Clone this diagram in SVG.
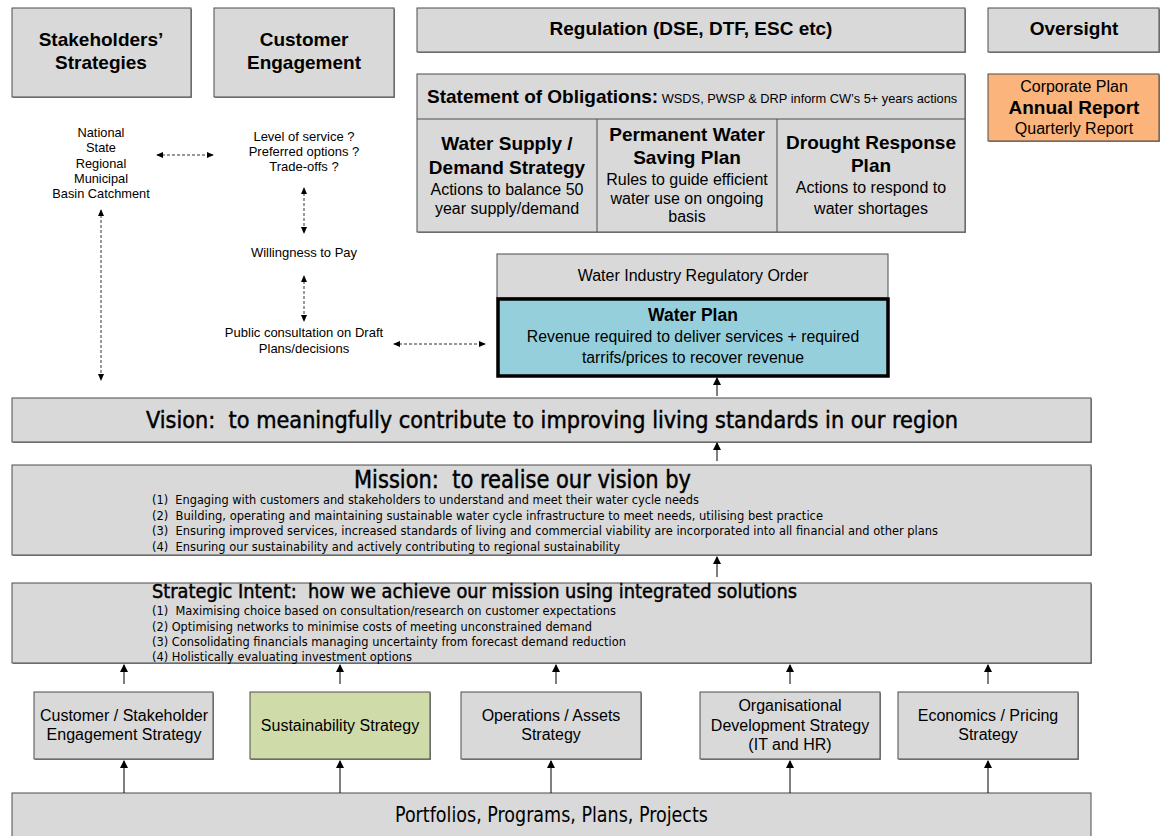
<svg xmlns="http://www.w3.org/2000/svg" width="1163" height="836" viewBox="0 0 1163 836">
  <style>
    .box { fill: #d9d9d9; stroke: #4d4d4d; stroke-width: 1; }
    .shadow { fill: #8c8c8c; }
    .ar { font-family: "Liberation Sans", Arial, sans-serif; fill: #000; }
    .cd { font-family: "DejaVu Sans Condensed", "DejaVu Sans", sans-serif; font-stretch: condensed; fill: #000; white-space: pre; }
    .heavy { stroke: #000; stroke-width: 0.45; }
    .b { font-weight: bold; }
    .mid { text-anchor: middle; }
    .solid { stroke: #000; stroke-width: 1; fill: none; }
    .dash { stroke: #333; stroke-width: 1; stroke-dasharray: 3 2; fill: none; }
  </style>
  <defs>
    <marker id="head" viewBox="0 0 8 10" refX="7" refY="5" markerWidth="8" markerHeight="10" markerUnits="userSpaceOnUse" orient="auto">
      <path d="M0,1 L8,5 L0,9 Z" fill="#000"/>
    </marker>
    <marker id="headS" viewBox="0 0 8 8" refX="7" refY="4" markerWidth="7" markerHeight="7" markerUnits="userSpaceOnUse" orient="auto-start-reverse">
      <path d="M0,0.5 L8,4 L0,7.5 Z" fill="#000"/>
    </marker>
  </defs>
  <rect width="1163" height="836" fill="#fff"/>

  <!-- top header boxes -->
  <g id="stakeholders">
    <rect class="shadow" x="13" y="9" width="179" height="89"/>
    <rect class="box" x="12" y="8" width="179" height="89"/>
    <text class="ar b mid" x="101" y="46" font-size="19">Stakeholders’</text>
    <text class="ar b mid" x="101" y="69" font-size="19">Strategies</text>
  </g>
  <g id="customer-engagement">
    <rect class="shadow" x="215" y="9" width="180" height="89"/>
    <rect class="box" x="214" y="8" width="180" height="89"/>
    <text class="ar b mid" x="304" y="46" font-size="19">Customer</text>
    <text class="ar b mid" x="304" y="69" font-size="19">Engagement</text>
  </g>
  <g id="regulation">
    <rect class="shadow" x="418" y="9" width="548" height="44"/>
    <rect class="box" x="417" y="8" width="548" height="44"/>
    <text class="ar b mid" x="691" y="35" font-size="19">Regulation (DSE, DTF, ESC etc)</text>
  </g>
  <g id="oversight">
    <rect class="shadow" x="989" y="9" width="171" height="44"/>
    <rect class="box" x="988" y="8" width="171" height="44"/>
    <text class="ar b mid" x="1074" y="35" font-size="19">Oversight</text>
  </g>
  <g id="reports">
    <rect class="shadow" x="989" y="75" width="171" height="67"/>
    <rect x="988" y="74" width="171" height="67" fill="#fab47c" stroke="#4d4d4d"/>
    <text class="ar mid" x="1074" y="92" font-size="16">Corporate Plan</text>
    <text class="ar b mid" x="1074" y="114" font-size="19">Annual Report</text>
    <text class="ar mid" x="1074" y="134" font-size="16">Quarterly Report</text>
  </g>

  <!-- statement of obligations and its three plans -->
  <g id="obligations">
    <rect class="shadow" x="418" y="75" width="548" height="158"/>
    <rect class="box" x="417" y="74" width="548" height="158"/>
    <line x1="417" y1="119" x2="965" y2="119" stroke="#4d4d4d"/>
    <text class="ar" x="427" y="103"><tspan class="b" font-size="19">Statement of Obligations:</tspan><tspan font-size="12.8"> WSDS, PWSP &amp; DRP inform CW’s 5+ years actions</tspan></text>
  </g>
  <g id="supply-demand">
    <line x1="597" y1="119" x2="597" y2="232" stroke="#4d4d4d"/>
    <text class="ar b mid" x="507" y="150" font-size="19">Water Supply /</text>
    <text class="ar b mid" x="507" y="174" font-size="19">Demand Strategy</text>
    <text class="ar mid" x="507" y="195" font-size="16">Actions to balance 50</text>
    <text class="ar mid" x="507" y="214" font-size="16">year supply/demand</text>
  </g>
  <g id="water-saving">
    <line x1="777" y1="119" x2="777" y2="232" stroke="#4d4d4d"/>
    <text class="ar b mid" x="687" y="141" font-size="19">Permanent Water</text>
    <text class="ar b mid" x="687" y="164" font-size="19">Saving Plan</text>
    <text class="ar mid" x="687" y="185" font-size="16">Rules to guide efficient</text>
    <text class="ar mid" x="687" y="204" font-size="16">water use on ongoing</text>
    <text class="ar mid" x="687" y="222" font-size="16">basis</text>
  </g>
  <g id="drought">
    <text class="ar b mid" x="871" y="149" font-size="19">Drought Response</text>
    <text class="ar b mid" x="871" y="172" font-size="19">Plan</text>
    <text class="ar mid" x="871" y="193" font-size="16">Actions to respond to</text>
    <text class="ar mid" x="871" y="214" font-size="16">water shortages</text>
  </g>

  <!-- regulatory order and water plan -->
  <g id="regulatory-order">
    <rect class="box" x="497" y="254" width="391" height="44"/>
    <text class="ar mid" x="693" y="281" font-size="16">Water Industry Regulatory Order</text>
  </g>
  <g id="water-plan">
    <rect x="498" y="299" width="390" height="77" fill="#96cfdc" stroke="#000" stroke-width="3.5"/>
    <text class="ar b mid" x="693" y="321" font-size="17.5">Water Plan</text>
    <text class="ar mid" x="693" y="342" font-size="15.8">Revenue required to deliver services + required</text>
    <text class="ar mid" x="693" y="363" font-size="15.8">tarrifs/prices to recover revenue</text>
  </g>

  <!-- free-standing engagement notes -->
  <g id="levels">
    <text class="ar mid" x="101" y="137" font-size="12.8">National</text>
    <text class="ar mid" x="101" y="152" font-size="12.8">State</text>
    <text class="ar mid" x="101" y="168" font-size="12.8">Regional</text>
    <text class="ar mid" x="101" y="183" font-size="12.8">Municipal</text>
    <text class="ar mid" x="101" y="198" font-size="12.8">Basin Catchment</text>
  </g>
  <g id="questions">
    <text class="ar mid" x="304" y="141" font-size="13">Level of service ?</text>
    <text class="ar mid" x="304" y="156" font-size="13">Preferred options ?</text>
    <text class="ar mid" x="304" y="171" font-size="13">Trade-offs ?</text>
  </g>
  <g id="willingness">
    <text class="ar mid" x="304" y="257" font-size="13">Willingness to Pay</text>
  </g>
  <g id="consultation">
    <text class="ar mid" x="304" y="337" font-size="13">Public consultation on Draft</text>
    <text class="ar mid" x="304" y="353" font-size="13">Plans/decisions</text>
  </g>

  <!-- vision / mission / strategic intent -->
  <g id="vision">
    <rect class="shadow" x="13" y="399" width="1079" height="44"/>
    <rect class="box" x="12" y="398" width="1079" height="44"/>
    <text class="cd heavy" x="146" y="428" font-size="23" textLength="812" lengthAdjust="spacingAndGlyphs" xml:space="preserve">Vision:  to meaningfully contribute to improving living standards in our region</text>
  </g>
  <g id="mission">
    <rect class="shadow" x="13" y="466" width="1079" height="90"/>
    <rect class="box" x="12" y="465" width="1079" height="90"/>
    <text class="cd heavy" x="354" y="488" font-size="24" textLength="337" lengthAdjust="spacingAndGlyphs" xml:space="preserve">Mission:  to realise our vision by</text>
    <text class="cd" x="152" y="504" font-size="13" textLength="547" lengthAdjust="spacingAndGlyphs" xml:space="preserve">(1)  Engaging with customers and stakeholders to understand and meet their water cycle needs</text>
    <text class="cd" x="152" y="520" font-size="13" textLength="671" lengthAdjust="spacingAndGlyphs" xml:space="preserve">(2)  Building, operating and maintaining sustainable water cycle infrastructure to meet needs, utilising best practice</text>
    <text class="cd" x="152" y="535" font-size="13" textLength="786" lengthAdjust="spacingAndGlyphs" xml:space="preserve">(3)  Ensuring improved services, increased standards of living and commercial viability are incorporated into all financial and other plans</text>
    <text class="cd" x="152" y="551" font-size="13" textLength="468" lengthAdjust="spacingAndGlyphs" xml:space="preserve">(4)  Ensuring our sustainability and actively contributing to regional sustainability</text>
  </g>
  <g id="strategic-intent">
    <rect class="shadow" x="13" y="584" width="1079" height="80"/>
    <rect class="box" x="12" y="583" width="1079" height="80"/>
    <text class="cd heavy" x="152" y="598" font-size="20" textLength="645" lengthAdjust="spacingAndGlyphs" xml:space="preserve">Strategic Intent:  how we achieve our mission using integrated solutions</text>
    <text class="cd" x="152" y="615" font-size="13" textLength="464" lengthAdjust="spacingAndGlyphs" xml:space="preserve">(1)  Maximising choice based on consultation/research on customer expectations</text>
    <text class="cd" x="152" y="631" font-size="13" textLength="440" lengthAdjust="spacingAndGlyphs" xml:space="preserve">(2) Optimising networks to minimise costs of meeting unconstrained demand</text>
    <text class="cd" x="152" y="646" font-size="13" textLength="474" lengthAdjust="spacingAndGlyphs" xml:space="preserve">(3) Consolidating financials managing uncertainty from forecast demand reduction</text>
    <text class="cd" x="152" y="661" font-size="13" textLength="260" lengthAdjust="spacingAndGlyphs" xml:space="preserve">(4) Holistically evaluating investment options</text>
  </g>

  <!-- functional strategies -->
  <g id="customer-strategy">
    <rect class="shadow" x="35" y="693" width="179" height="67"/>
    <rect class="box" x="34" y="692" width="179" height="67"/>
    <text class="ar mid" x="124" y="721" font-size="16">Customer / Stakeholder</text>
    <text class="ar mid" x="124" y="740" font-size="16">Engagement Strategy</text>
  </g>
  <g id="sustainability-strategy">
    <rect class="shadow" x="251" y="693" width="180" height="67"/>
    <rect x="250" y="692" width="180" height="67" fill="#cfdcaa" stroke="#4d4d4d"/>
    <text class="ar mid" x="340" y="731" font-size="16">Sustainability Strategy</text>
  </g>
  <g id="operations-strategy">
    <rect class="shadow" x="462" y="693" width="180" height="67"/>
    <rect class="box" x="461" y="692" width="180" height="67"/>
    <text class="ar mid" x="551" y="721" font-size="16">Operations / Assets</text>
    <text class="ar mid" x="551" y="740" font-size="16">Strategy</text>
  </g>
  <g id="organisational-strategy">
    <rect class="shadow" x="701" y="693" width="180" height="67"/>
    <rect class="box" x="700" y="692" width="180" height="67"/>
    <text class="ar mid" x="790" y="711" font-size="16">Organisational</text>
    <text class="ar mid" x="790" y="731" font-size="16">Development Strategy</text>
    <text class="ar mid" x="790" y="750" font-size="16">(IT and HR)</text>
  </g>
  <g id="economics-strategy">
    <rect class="shadow" x="899" y="693" width="180" height="67"/>
    <rect class="box" x="898" y="692" width="180" height="67"/>
    <text class="ar mid" x="988" y="721" font-size="16">Economics / Pricing</text>
    <text class="ar mid" x="988" y="740" font-size="16">Strategy</text>
  </g>
  <g id="portfolios">
    <rect class="box" x="12" y="793" width="1079" height="50"/>
    <text class="cd" x="395" y="822" font-size="21" textLength="313" lengthAdjust="spacingAndGlyphs">Portfolios, Programs, Plans, Projects</text>
  </g>

  <!-- connectors -->
  <g id="connectors">
    <line class="dash" x1="157" y1="155" x2="213" y2="155" marker-start="url(#headS)" marker-end="url(#headS)"/>
    <line class="dash" x1="304" y1="188" x2="304" y2="233" marker-start="url(#headS)" marker-end="url(#headS)"/>
    <line class="dash" x1="304" y1="276" x2="304" y2="321" marker-start="url(#headS)" marker-end="url(#headS)"/>
    <line class="dash" x1="394" y1="344" x2="485" y2="344" marker-start="url(#headS)" marker-end="url(#headS)"/>
    <line class="dash" x1="101" y1="210" x2="101" y2="380" marker-start="url(#headS)" marker-end="url(#headS)"/>

    <line class="solid" x1="717" y1="396" x2="717" y2="378" marker-end="url(#head)"/>
    <line class="solid" x1="717" y1="461" x2="717" y2="443" marker-end="url(#head)"/>
    <line class="solid" x1="717" y1="577" x2="717" y2="557" marker-end="url(#head)"/>

    <line class="solid" x1="124" y1="684" x2="124" y2="665" marker-end="url(#head)"/>
    <line class="solid" x1="340" y1="684" x2="340" y2="665" marker-end="url(#head)"/>
    <line class="solid" x1="556" y1="684" x2="556" y2="665" marker-end="url(#head)"/>
    <line class="solid" x1="790" y1="684" x2="790" y2="665" marker-end="url(#head)"/>
    <line class="solid" x1="988" y1="684" x2="988" y2="665" marker-end="url(#head)"/>

    <line class="solid" x1="124" y1="793" x2="124" y2="761" marker-end="url(#head)"/>
    <line class="solid" x1="340" y1="793" x2="340" y2="761" marker-end="url(#head)"/>
    <line class="solid" x1="551" y1="793" x2="551" y2="761" marker-end="url(#head)"/>
    <line class="solid" x1="790" y1="793" x2="790" y2="761" marker-end="url(#head)"/>
    <line class="solid" x1="988" y1="793" x2="988" y2="761" marker-end="url(#head)"/>
  </g>
</svg>
